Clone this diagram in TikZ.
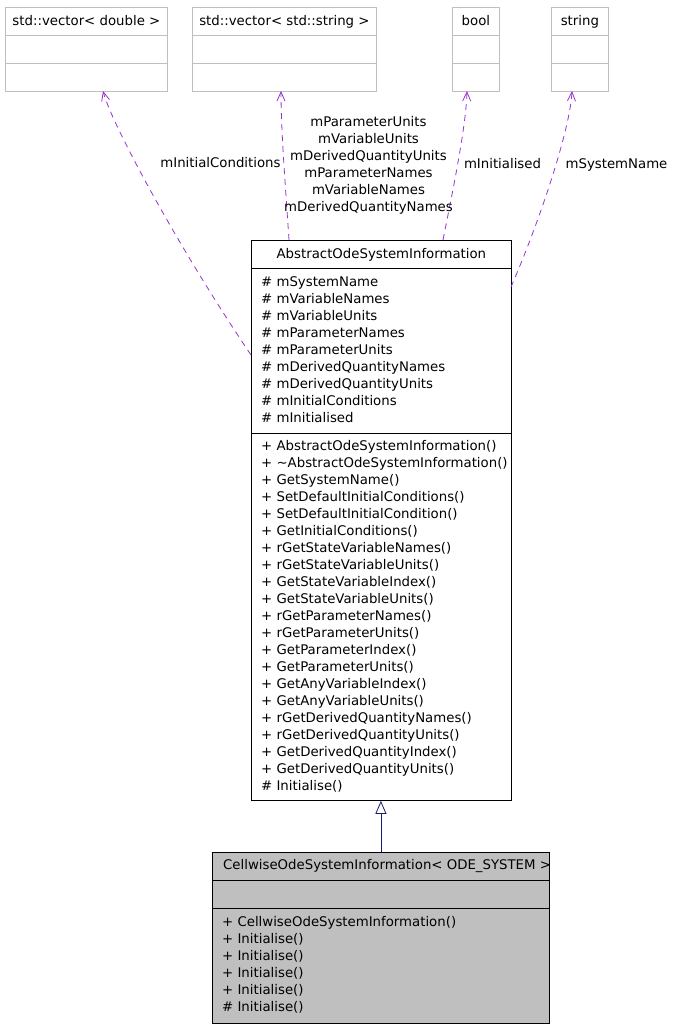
\documentclass[tikz,border=0pt]{standalone}
\usepackage{fontspec}
\setmainfont{DejaVu Sans}
\usepackage{xcolor}
\usetikzlibrary{positioning, calc, arrows.meta}

\definecolor{depcol}{HTML}{9A32CD}
\definecolor{inhcol}{HTML}{191970}
\definecolor{boxgray}{HTML}{BFBFBF}

\begin{document}
\begin{tikzpicture}[x=1pt,y=-1pt,
    txt/.style={font=\fontsize{13.3}{17}\selectfont, inner sep=0pt, anchor=base},
    member/.style={txt, anchor=base west},
    typebox/.style={draw=boxgray, line width=0.8pt, anchor=north west, inner sep=0pt},
    classbox/.style={draw=black, line width=0.8pt, anchor=north west, inner sep=0pt},
    usearrow/.style={depcol, line width=0.8pt, dash pattern=on 6pt off 5pt,
        -{Straight Barb[length=9pt,width=8pt]}},
    inheritarrow/.style={inhcol, line width=0.8pt,
        -{Triangle[open,length=13pt,width=11pt,fill=white]}}]

    \useasboundingbox (0,0) rectangle (672,1027);

    % ==========================================
    % Used types (Top)
    % ==========================================
    \node[typebox, minimum width=162, minimum height=84] (vecdouble) at (5,7) {};
    \node[typebox, minimum width=184, minimum height=84] (vecstring) at (192,7) {};
    \node[typebox, minimum width=47, minimum height=84] (bool) at (452,7) {};
    \node[typebox, minimum width=57, minimum height=84] (string) at (551,7) {};

    % Compartment lines
    \foreach \b in {vecdouble, vecstring, bool, string} {
        \draw[boxgray, line width=0.8pt] ($(\b.north west)+(0,28)$) -- ($(\b.north east)+(0,28)$);
        \draw[boxgray, line width=0.8pt] ($(\b.north west)+(0,56)$) -- ($(\b.north east)+(0,56)$);
    }

    % Type names
    \node[txt] (vecdoubleT) at ($(vecdouble.north)+(0,18.5)$) {std::vector< double >};
    \node[txt] (vecstringT) at ($(vecstring.north)+(0,18.5)$) {std::vector< std::string >};
    \node[txt] (boolT) at ($(bool.north)+(0,18.5)$) {bool};
    \node[txt] (stringT) at ($(string.north)+(0,18.5)$) {string};

    % ==========================================
    % AbstractOdeSystemInformation (Middle)
    % ==========================================
    \node[classbox, fill=white, minimum width=260, minimum height=560] (abstract) at (251,240) {};
    \draw[line width=0.8pt] ($(abstract.north west)+(0,28)$) -- ($(abstract.north east)+(0,28)$);
    \draw[line width=0.8pt] ($(abstract.north west)+(0,193)$) -- ($(abstract.north east)+(0,193)$);

    \node[txt] (abstractT) at ($(abstract.north)+(0,18.5)$) {AbstractOdeSystemInformation};

    % Attributes
    \foreach \a [count=\i from 0] in {mSystemName, mVariableNames, mVariableUnits,
            mParameterNames, mParameterUnits, mDerivedQuantityNames,
            mDerivedQuantityUnits, mInitialConditions, mInitialised} {
        \node[member] (absA\i) at (261, 286.5+17*\i) {\# \a};
    }

    % Methods
    \foreach \m [count=\i from 0] in {+ AbstractOdeSystemInformation(),
            + \textasciitilde AbstractOdeSystemInformation(), + GetSystemName(),
            + SetDefaultInitialConditions(), + SetDefaultInitialCondition(),
            + GetInitialConditions(), + rGetStateVariableNames(),
            + rGetStateVariableUnits(), + GetStateVariableIndex(),
            + GetStateVariableUnits(), + rGetParameterNames(),
            + rGetParameterUnits(), + GetParameterIndex(), + GetParameterUnits(),
            + GetAnyVariableIndex(), + GetAnyVariableUnits(),
            + rGetDerivedQuantityNames(), + rGetDerivedQuantityUnits(),
            + GetDerivedQuantityIndex(), + GetDerivedQuantityUnits(),
            \# Initialise()} {
        \node[member] (absM\i) at (261, 450.5+17*\i) {\m};
    }

    % ==========================================
    % CellwiseOdeSystemInformation (Bottom)
    % ==========================================
    \node[classbox, fill=boxgray, minimum width=337, minimum height=171] (cellwise) at (212,852) {};
    \draw[line width=0.8pt] ($(cellwise.north west)+(0,28)$) -- ($(cellwise.north east)+(0,28)$);
    \draw[line width=0.8pt] ($(cellwise.north west)+(0,56)$) -- ($(cellwise.north east)+(0,56)$);

    \node[member] (cellwiseT) at (223,869.5) {CellwiseOdeSystemInformation< ODE\_SYSTEM >};

    \foreach \m [count=\i from 0] in {+ CellwiseOdeSystemInformation(), + Initialise(),
            + Initialise(), + Initialise(), + Initialise(), \# Initialise()} {
        \node[member] (cellM\i) at (222, 926.5+17*\i) {\m};
    }

    % ==========================================
    % Connectors
    % ==========================================
    % Inheritance
    \draw[inheritarrow] (cellwise.north) -- (cellwise.north |- abstract.south);

    % Usage (dashed)
    \coordinate (icFrom) at (251,355);
    \coordinate (icTo) at (103,91);
    \coordinate (vsFrom) at (289,240);
    \coordinate (vsTo) at (281,91);
    \coordinate (biFrom) at (443,240);
    \coordinate (biTo) at (467,91);
    \coordinate (snFrom) at (511,287);
    \coordinate (snTo) at (572,91);

    \draw[usearrow] (icFrom) .. controls (180,250) and (112,125) .. (icTo);
    \draw[usearrow] (vsFrom) .. controls (285,180) and (281,130) .. (vsTo);
    \draw[usearrow] (biFrom) .. controls (455,180) and (466,125) .. (biTo);
    \draw[usearrow] (snFrom) .. controls (540,220) and (570,130) .. (snTo);

    % Labels
    \node[txt] (icLabel) at (220.5,167.5) {mInitialConditions};
    \foreach \l [count=\i from 0] in {mParameterUnits, mVariableUnits,
            mDerivedQuantityUnits, mParameterNames, mVariableNames,
            mDerivedQuantityNames} {
        \node[txt] (vsLabel\i) at (368.5, 126.5+17*\i) {\l};
    }
    \node[txt] (biLabel) at (502.5,168.5) {mInitialised};
    \node[txt] (snLabel) at (616.5,168.5) {mSystemName};

\end{tikzpicture}
\end{document}
